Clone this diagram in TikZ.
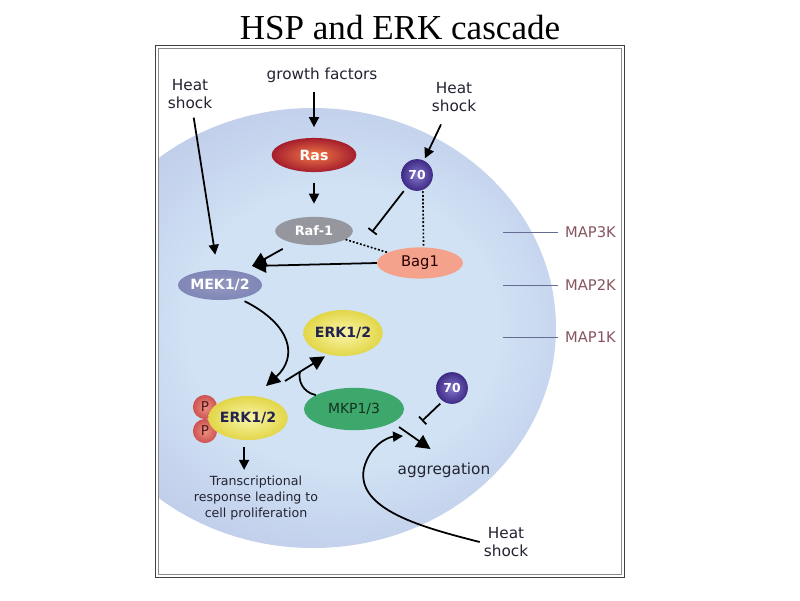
\documentclass[tikz,border=0pt]{standalone}
\usepackage{fontspec}
\setmainfont{Liberation Serif}
\newfontfamily\verd{DejaVu Sans}
\usetikzlibrary{arrows.meta,shapes.geometric}
\definecolor{cellout}{RGB}{163,166,216}
\definecolor{cellin}{RGB}{208,226,244}
\definecolor{rasout}{RGB}{165,30,45}
\definecolor{rasin}{RGB}{240,120,70}
\definecolor{rafc}{RGB}{150,150,158}
\definecolor{mekc}{RGB}{128,134,182}
\definecolor{bagc}{RGB}{244,162,140}
\definecolor{erkin}{RGB}{250,246,170}
\definecolor{erkout}{RGB}{226,214,72}
\definecolor{mkpc}{RGB}{62,168,108}
\definecolor{hspin}{RGB}{130,118,205}
\definecolor{hspout}{RGB}{62,42,132}
\definecolor{pin}{RGB}{238,145,130}
\definecolor{pout}{RGB}{205,82,80}
\definecolor{mapc}{RGB}{135,85,95}
\definecolor{txtc}{RGB}{35,35,50}
\definecolor{erktxt}{RGB}{35,35,80}
\pgfdeclareradialshading{cellshade}{\pgfpoint{4bp}{0bp}}{color(0bp)=(cellin); color(16bp)=(cellin); color(48bp)=(cellout); color(70bp)=(cellout)}

\begin{document}
\begin{tikzpicture}[x=0.85pt,y=-0.85pt,
lbl/.style={font=\verd\fontsize{13}{15.5}\selectfont,text=txtc,align=center},
maplbl/.style={font=\verd\fontsize{12.5}{15}\selectfont,text=mapc,inner sep=0pt,anchor=west},
prot/.style={ellipse,inner sep=0pt,font=\verd\bfseries\fontsize{12}{14}\selectfont},
hsp/.style={circle,inner sep=0pt,minimum size=27pt,inner color=hspin,outer color=hspout,text=white,font=\verd\bfseries\fontsize{10.5}{12}\selectfont},
phos/.style={circle,inner sep=0pt,minimum size=20.5pt,inner color=pin,outer color=pout,text=pout!35!black,font=\verd\fontsize{11.5}{13}\selectfont},
arr/.style={line width=1.5pt,-{Triangle[length=8.5pt,width=8.5pt]}},
bigarr/.style={line width=1.5pt,-{Triangle[length=12pt,width=12pt]}},
inh/.style={line width=1.5pt,-{Bar[width=9pt,line width=1.5pt]}},
dots/.style={line width=1.4pt,dash pattern=on 1.6pt off 1.6pt}]
\useasboundingbox (0,0) rectangle (800,600);
\fill[white] (0,0) rectangle (800,600);
% cell
\begin{scope}
\clip (158,48) rectangle (621,574);
\shade[shading=cellshade] (313,328) ellipse [x radius=243,y radius=220];
\end{scope}
\draw[black!75,line width=0.8pt] (155,45) rectangle (624,577);
\draw[black!45,line width=0.6pt] (158,48) rectangle (621,574);
\node[font=\fontsize{29.8}{34}\selectfont] (title) at (400,28) {HSP and ERK cascade};

% kinase levels
\node[maplbl] (map3) at (565,232) {MAP3K};
\node[maplbl] (map2) at (565,285) {MAP2K};
\node[maplbl] (map1) at (565,337) {MAP1K};
\coordinate (m3) at (503,232);
\coordinate (m2) at (503,285);
\coordinate (m1) at (503,337);
\foreach \m in {1,2,3}
  \draw[color=mekc!80!black,line width=0.6pt] (m\m) -- ([xshift=-6pt]map\m.west);

% labels
\node[lbl] (hsL) at (190,94) {Heat\\shock};
\node[lbl] (gf) at (322,75) {growth factors};
\node[lbl] (hsR) at (454,97) {Heat\\shock};
\node[lbl] (hsB) at (506,542) {Heat\\shock};
\node[lbl] (agg) at (444,470) {aggregation};
\node[lbl,font=\verd\fontsize{10.7}{13.2}\selectfont] (txr) at (256,498) {Transcriptional\\response leading to\\cell proliferation};

% proteins
\node[prot,minimum width=72pt,minimum height=29pt,inner color=rasin,outer color=rasout,text=white] (ras) at (314,155) {Ras};
\node[prot,minimum width=66pt,minimum height=24pt,fill=rafc,text=white,font=\verd\bfseries\fontsize{11}{13}\selectfont] (raf) at (314,231) {Raf-1};
\node[hsp] (hsp1) at (417,175) {70};
\node[prot,minimum width=73pt,minimum height=26.5pt,fill=bagc,text=black!75!red!60!black,font=\verd\fontsize{12.5}{14}\selectfont] (bag) at (420,263) {Bag1};
\node[prot,minimum width=68pt,minimum height=25.5pt,inner color=mekc!85,outer color=mekc,text=white] (mek) at (220,285) {MEK1/2};
\node[prot,minimum width=53pt,minimum height=39pt,inner color=erkin,outer color=erkout,text=erktxt] (erk) at (343,333) {ERK1/2};
\node[phos] (p1) at (205,407) {P};
\node[phos] (p2) at (205,431) {P};
\node[prot,minimum width=60pt,minimum height=37.5pt,inner color=erkin,outer color=erkout,text=erktxt] (perk) at (248,418) {ERK1/2};
\node[prot,minimum width=85pt,minimum height=36pt,fill=mkpc,text=mkpc!30!black,font=\verd\fontsize{11.8}{14}\selectfont] (mkp) at (354,409) {MKP1/3};
\node[hsp] (hsp2) at (452,388) {70};

\coordinate (mekin) at (252,266);
\coordinate (rafstop) at (372,232);
\coordinate (fwdtip) at (266,386);
\coordinate (revstart) at (285,381);
\coordinate (revjoin) at (300,371.5);
\coordinate (aggstop) at (422,421);
\coordinate (aggsrc) at (399,427);
\coordinate (hsin) at (403,436);

% connectors
\draw[arr,shorten <=5pt,shorten >=9pt] (gf.south -| ras) -- (ras);
\draw[arr,shorten <=9pt,shorten >=11pt] (ras) -- (raf);
\draw[arr,shorten <=8pt,shorten >=2pt] (hsR) -- (hsp1);
\draw[inh,shorten <=4pt] (hsp1.230) -- (rafstop);
\draw[dots] ([xshift=5pt]hsp1.south) -- ([xshift=3pt]bag.north);
\draw[dots] (raf.-15) -- (bag.162);
\draw[bigarr,shorten <=10pt] (raf.210) -- (mekin);
\draw[bigarr] (bag.west) -- (mekin);
\draw[arr,shorten <=4pt,shorten >=13pt] (hsL) -- (mek);
\draw[bigarr,shorten <=5pt] (mek.-35) .. controls (292,325) and (298,357) .. (fwdtip);
\draw[bigarr,shorten >=3pt] (revstart) -- (erk.235);
\draw[line width=1.5pt] (mkp.160) .. controls (302,392) and (298,380) .. (revjoin);
\draw[arr,shorten <=6pt,shorten >=2pt] (perk.260) -- (perk.260 |- txr.north);
\draw[inh,shorten <=3pt] (hsp2.235) -- (aggstop);
\draw[bigarr,shorten >=14pt] (aggsrc) -- (agg.north);
\draw[arr] (hsB.west) .. controls (425,528) and (355,510) .. (364,468) .. controls (370,445) and (388,437) .. (hsin);
\end{tikzpicture}
\end{document}
